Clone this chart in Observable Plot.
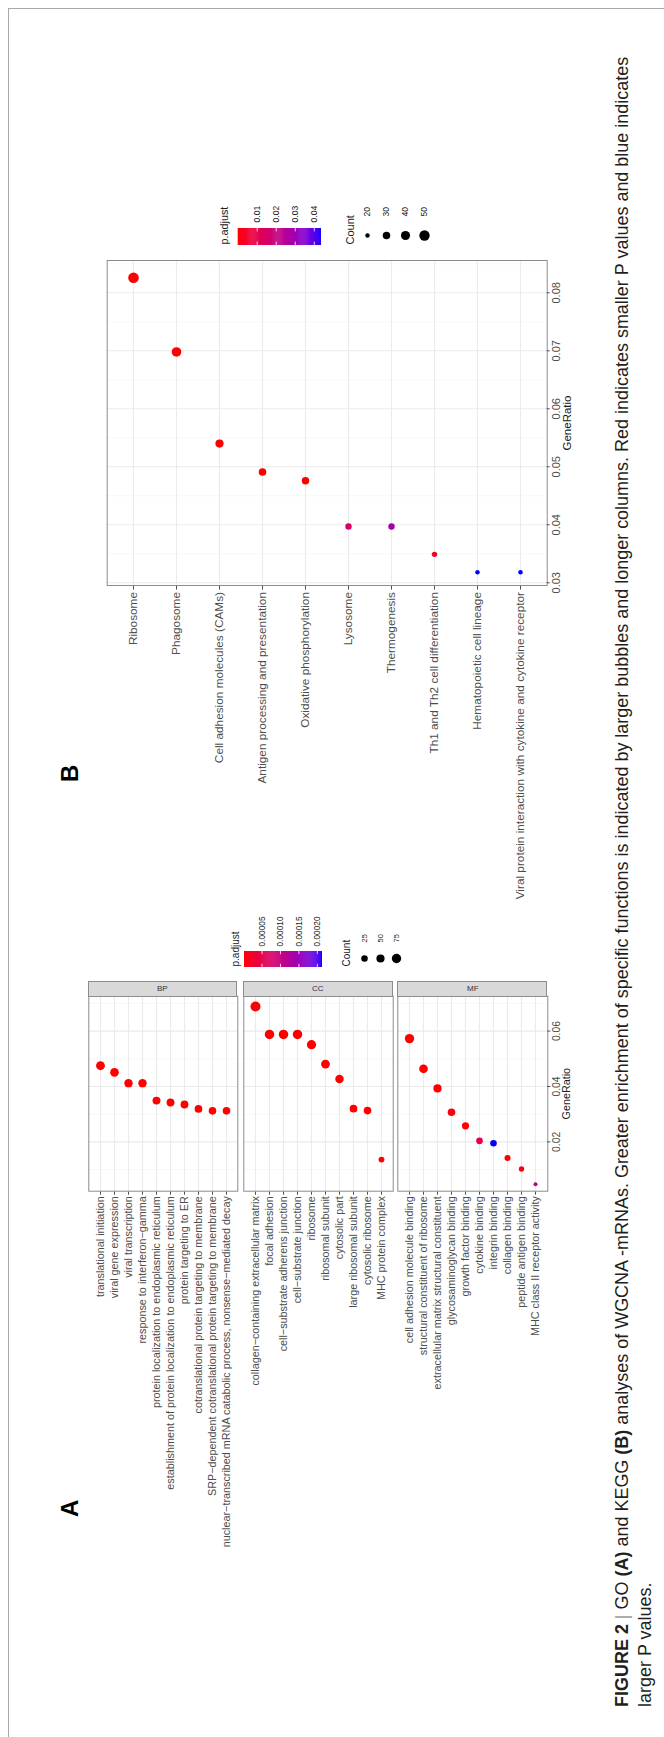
<!DOCTYPE html>
<html>
<head>
<meta charset="utf-8">
<title>Figure 2</title>
<script src="https://cdn.jsdelivr.net/npm/d3@7"></script>
<script src="https://cdn.jsdelivr.net/npm/@observablehq/plot@0.6"></script>
<style>
  html, body { margin:0; padding:0; background:#fff; }
  body { width:664px; height:1737px; overflow:hidden; position:relative; }
  #land { position:absolute; left:0; top:0; width:1737px; height:664px;
          transform-origin:0 0; transform:translate(0px,1737px) rotate(-90deg);
          font-family:"Liberation Sans", Arial, Helvetica, sans-serif; }
  #land > * { position:absolute; }
  .strip { box-sizing:border-box; background:#d9d9d9; border:1px solid #8c8c8c;
           display:flex; align-items:center; justify-content:center; }
  .strip span { writing-mode:vertical-rl; font-size:8px; color:#333; }
  .plabel { font-weight:bold; font-size:24px; line-height:24px; color:#000; }
  #caption { white-space:nowrap; color:#231f20; }
  #frameLines { box-sizing:border-box; border-top:1px solid #a8a8a8; border-right:1px solid #a8a8a8; }
</style>
</head>
<body>
<div id="land"></div>
<script>
// ---------------- DATA ----------------
// GO — Biological Process
const bpTerms = ["translational initiation","viral gene expression","viral transcription","response to interferon\u2212gamma","protein localization to endoplasmic reticulum","establishment of protein localization to endoplasmic reticulum","protein targeting to ER","cotranslational protein targeting to membrane","SRP\u2212dependent cotranslational protein targeting to membrane","nuclear\u2212transcribed mRNA catabolic process, nonsense\u2212mediated decay"];
const bpRatio = [0.0475,0.0451,0.0412,0.0412,0.0349,0.0342,0.0335,0.0319,0.0312,0.0312];
const bpCount = [63,60,54,54,46,45,44,42,41,41];
const bpPadj  = [1e-9,1e-9,1e-9,1e-9,1e-8,1e-8,1e-8,1e-8,1e-8,1e-8];

// GO — Cellular Component
const ccTerms = ["collagen\u2212containing extracellular matrix","focal adhesion","cell\u2212substrate adherens junction","cell\u2212substrate junction","ribosome","ribosomal subunit","cytosolic part","large ribosomal subunit","cytosolic ribosome","MHC protein complex"];
const ccRatio = [0.0689,0.0588,0.0588,0.0588,0.0551,0.0481,0.0427,0.0320,0.0313,0.0136];
const ccCount = [90,77,77,77,72,63,56,42,41,18];
const ccPadj  = [1e-12,1e-10,1e-10,1e-10,1e-10,1e-9,1e-9,1e-7,1e-7,1e-6];

// GO — Molecular Function
const mfTerms = ["cell adhesion molecule binding","structural constituent of ribosome","extracellular matrix structural constituent","glycosaminoglycan binding","growth factor binding","cytokine binding","integrin binding","collagen binding","peptide antigen binding","MHC class II receptor activity"];
const mfRatio = [0.0573,0.0464,0.0393,0.0307,0.0258,0.0204,0.0195,0.0142,0.0102,0.0047];
const mfCount = [75,61,51,40,34,27,25,19,13,6];
const mfPadj  = [1e-10,1e-8,1e-7,1e-5,1e-6,0.000049,0.000214,1e-6,1e-5,0.000119];

// KEGG
const keggTerms = ["Ribosome","Phagosome","Cell adhesion molecules (CAMs)","Antigen processing and presentation","Oxidative phosphorylation","Lysosome","Thermogenesis","Th1 and Th2 cell differentiation","Hematopoietic cell lineage","Viral protein interaction with cytokine and cytokine receptor"];
const keggRatio = [0.0826,0.0698,0.0540,0.0491,0.0476,0.0397,0.0397,0.0349,0.0318,0.0318];
const keggCount = [52,44,34,31,30,25,25,22,20,20];
const keggPadj  = [1e-20,1e-15,1e-8,1e-7,1e-6,0.0153,0.0285,0.004,0.0438,0.0438];

// ticks / legend breaks
const facetNames   = ["BP","CC","MF"];
const aRatioTicks  = [0.02,0.04,0.06];
const aMinorTicks  = [0.01,0.03,0.05,0.07];
const bRatioTicks  = [0.03,0.04,0.05,0.06,0.07,0.08];
const bMinorTicks  = [0.035,0.045,0.055,0.065,0.075,0.085];
const aPadjBreaks  = [0.00005,0.0001,0.00015,0.0002];
const aCountBreaks = [25,50,75];
const bPadjBreaks  = [0.01,0.02,0.03,0.04];
const bCountBreaks = [20,30,40,50];

// ---------------- LAYOUT (landscape frame, then rotated) ----------------
const W = 1737, H = 664;
const FONT = '"Liberation Sans", Arial, Helvetica, sans-serif';
const land = document.getElementById("land");
const svgStyle = {background:"none", overflow:"visible", fontFamily:FONT, color:"#4d4d4d", maxWidth:"none"};
function place(node){ node.style.position="absolute"; node.style.left="0px"; node.style.top="0px"; land.appendChild(node); return node; }

// page frame lines
const fr = document.createElement("div");
fr.id = "frameLines";
fr.style.cssText = "left:0px;top:8px;width:1729px;height:656px;";
land.appendChild(fr);

// ----- Panel A (GO, faceted) -----
const aU0 = 545.3, aU1 = 740.3, stripW = 15.7;
const aFacetV = [[88.3,237.3],[243.3,392.7],[397.3,547.3]];
const aXDomain = [0.0022, 0.0726];
const aColor = {type:"linear", domain:[0.0000025,0.000214], range:["red","blue"], interpolate:"lab", clamp:true};
const aOff = 5;
const aR = {type:"sqrt", domain:[0,85], range:[1.64,5]};

const goSets = [
  {terms:bpTerms, ratio:bpRatio, count:bpCount, padj:bpPadj},
  {terms:ccTerms, ratio:ccRatio, count:ccCount, padj:ccPadj},
  {terms:mfTerms, ratio:mfRatio, count:mfCount, padj:mfPadj}
];

goSets.forEach((s,k)=>{
  const [v0,v1] = aFacetV[k];
  const last = k === goSets.length-1;
  const rows = s.terms.map((t,i)=>({term:t, ratio:s.ratio[i], count:s.count[i], padj:s.padj[i]}));
  const marks = [
    Plot.gridX(aMinorTicks,{stroke:"#f2f2f2", strokeOpacity:1, strokeWidth:0.6}),
    Plot.gridX(aRatioTicks,{stroke:"#ebebeb", strokeOpacity:1, strokeWidth:1.1}),
    Plot.gridY(s.terms,{stroke:"#ebebeb", strokeOpacity:1, strokeWidth:1.1}),
    Plot.frame({stroke:"#8c8c8c", strokeWidth:1}),
    Plot.axisY({tickSize:3, tickPadding:2, fontSize:10.8, label:null}),
    Plot.dot(rows,{x:"ratio", y:"term", r:d=>d.count-aOff, fill:"padj"})
  ];
  if (last) {
    marks.push(Plot.axisX(aRatioTicks,{tickSize:3, tickPadding:2, fontSize:10.3, tickFormat:d3.format(".2f"), label:null}));
    marks.push(Plot.text(["GeneRatio"],{frameAnchor:"bottom", dy:22, fontSize:10.8, fill:"#1a1a1a"}));
  }
  place(Plot.plot({
    width:W, height:H,
    marginLeft:aU0, marginRight:W-aU1, marginTop:v0, marginBottom:H-v1,
    x: last ? {domain:aXDomain} : {domain:aXDomain, axis:null},
    y: {type:"point", domain:s.terms, padding:0.6},
    r: aR, color: aColor,
    style: svgStyle,
    marks
  }));
  const st = document.createElement("div");
  st.className = "strip";
  st.style.cssText = `left:${aU1}px;top:${v0}px;width:${stripW}px;height:${v1-v0}px;`;
  st.innerHTML = `<span>${facetNames[k]}</span>`;
  land.appendChild(st);
});

// Legend helpers
function barCells(lo, hi, n){
  const step = (hi-lo)/n;
  return d3.range(n).map(i=>({a:lo+step*i, b:Math.min(hi, lo+step*(i+1.4)), m:lo+step*(i+0.5)}));
}
{
  const [lo,hi] = aColor.domain;
  place(Plot.plot({
    width:W, height:H, margin:0,
    x:{domain:[0,1], range:[770,786], axis:null},
    y:{domain:[lo,hi], range:[244,322], axis:null},
    color:aColor, style:svgStyle,
    marks:[
      Plot.rect(barCells(lo,hi,80),{x1:0, x2:1, y1:"a", y2:"b", fill:"m"}),
      Plot.ruleY(aPadjBreaks,{x1:0, x2:0.2, stroke:"white", strokeWidth:0.8}),
      Plot.ruleY(aPadjBreaks,{x1:0.8, x2:1, stroke:"white", strokeWidth:0.8}),
      Plot.text(aPadjBreaks,{x:1, y:d=>d, dx:4, text:d=>d.toFixed(5), textAnchor:"start", fontSize:8.3, fill:"#1a1a1a"}),
      Plot.text(["p.adjust"],{x:0, y:lo, dy:-6, textAnchor:"start", lineAnchor:"bottom", fontSize:10, fill:"#1a1a1a"})
    ]
  }));
  place(Plot.plot({
    width:W, height:H, margin:0,
    x:{domain:[0,1], range:[770,786], axis:null},
    y:{type:"point", domain:aCountBreaks, range:[363.3,396.7], padding:0, axis:null},
    r:aR, style:svgStyle,
    marks:[
      Plot.dot(aCountBreaks,{x:0.5, y:d=>d, r:d=>d-aOff, fill:"black"}),
      Plot.text(aCountBreaks,{x:1, y:d=>d, dx:8, text:d=>String(d), textAnchor:"start", fontSize:7.5, fill:"#1a1a1a"}),
      Plot.text(["Count"],{x:0, y:aCountBreaks[0], dy:-15, textAnchor:"start", lineAnchor:"bottom", fontSize:10, fill:"#1a1a1a"})
    ]
  }));
}

// ----- Panel B (KEGG) -----
const bU0 = 1151, bU1 = 1476, bV0 = 106.7, bV1 = 546.7;
const bColor = {type:"linear", domain:[0,0.0438], range:["red","blue"], interpolate:"lab", clamp:true};
const bOff = 19;
const bR = {type:"sqrt", domain:[0,33], range:[1.6,5.3]};
{
  const rows = keggTerms.map((t,i)=>({term:t, ratio:keggRatio[i], count:keggCount[i], padj:keggPadj[i]}));
  place(Plot.plot({
    width:W, height:H,
    marginLeft:bU0, marginRight:W-bU1, marginTop:bV0, marginBottom:H-bV1,
    x:{domain:[0.02953,0.08557]},
    y:{type:"point", domain:keggTerms, padding:0.6},
    r:bR, color:bColor, style:svgStyle,
    marks:[
      Plot.gridX(bMinorTicks,{stroke:"#f2f2f2", strokeOpacity:1, strokeWidth:0.6}),
      Plot.gridX(bRatioTicks,{stroke:"#ebebeb", strokeOpacity:1, strokeWidth:1.1}),
      Plot.gridY(keggTerms,{stroke:"#ebebeb", strokeOpacity:1, strokeWidth:1.1}),
      Plot.frame({stroke:"#8c8c8c", strokeWidth:1}),
      Plot.axisY({tickSize:3.5, tickPadding:3, fontSize:11.8, label:null}),
      Plot.axisX(bRatioTicks,{tickSize:3, tickPadding:2, fontSize:11, tickFormat:d3.format(".2f"), label:null}),
      Plot.text(["GeneRatio"],{frameAnchor:"bottom", dy:24, fontSize:11.5, fill:"#1a1a1a"}),
      Plot.dot(rows,{x:"ratio", y:"term", r:d=>d.count-bOff, fill:"padj"})
    ]
  }));
  const [lo,hi] = bColor.domain;
  place(Plot.plot({
    width:W, height:H, margin:0,
    x:{domain:[0,1], range:[1492,1509], axis:null},
    y:{domain:[lo,hi], range:[237.7,321], axis:null},
    color:bColor, style:svgStyle,
    marks:[
      Plot.rect(barCells(lo,hi,80),{x1:0, x2:1, y1:"a", y2:"b", fill:"m"}),
      Plot.ruleY(bPadjBreaks,{x1:0, x2:0.2, stroke:"white", strokeWidth:0.8}),
      Plot.ruleY(bPadjBreaks,{x1:0.8, x2:1, stroke:"white", strokeWidth:0.8}),
      Plot.text(bPadjBreaks,{x:1, y:d=>d, dx:5, text:d=>d.toFixed(2), textAnchor:"start", fontSize:8.6, fill:"#1a1a1a"}),
      Plot.text(["p.adjust"],{x:0, y:lo, dy:-10, textAnchor:"start", lineAnchor:"bottom", fontSize:10.8, fill:"#1a1a1a"})
    ]
  }));
  place(Plot.plot({
    width:W, height:H, margin:0,
    x:{domain:[0,1], range:[1492,1510], axis:null},
    y:{type:"point", domain:bCountBreaks, range:[366.7,424.3], padding:0, axis:null},
    r:bR, style:svgStyle,
    marks:[
      Plot.dot(bCountBreaks,{x:0.5, y:d=>d, r:d=>d-bOff, fill:"black"}),
      Plot.text(bCountBreaks,{x:1, y:d=>d, dx:10, text:d=>String(d), textAnchor:"start", fontSize:8.5, fill:"#1a1a1a"}),
      Plot.text(["Count"],{x:0, y:bCountBreaks[0], dy:-13.7, textAnchor:"start", lineAnchor:"bottom", fontSize:11, fill:"#1a1a1a"})
    ]
  }));
}

// ----- panel letters -----
[["A",220],["B",955]].forEach(([t,u])=>{
  const d = document.createElement("div");
  d.className = "plabel";
  d.style.cssText = `left:${u}px;top:57.7px;`;
  d.textContent = t;
  land.appendChild(d);
});

// ----- caption -----
const cap = document.createElement("div");
cap.id = "caption";
cap.innerHTML = '<div id="l1" style="display:inline-block"><b>FIGURE 2</b> <span style="color:#9a9a9a">|</span> GO <b>(A)</b> and KEGG <b>(B)</b> analyses of WGCNA -mRNAs. Greater enrichment of specific functions is indicated by larger bubbles and longer columns. Red indicates smaller P values and blue indicates</div><div>larger P values.</div>';
cap.style.fontSize = "16px";
cap.style.lineHeight = "23px";
cap.style.left = "30px";
cap.style.top = "0px";
land.appendChild(cap);
const capW1 = cap.querySelector("#l1").offsetWidth;
const capFs = 16 * 1650 / capW1;
cap.style.fontSize = capFs + "px";
const capTop = 629 - ((23 - 1.117*capFs)/2 + 0.905*capFs);
cap.style.top = capTop + "px";
</script>
</body>
</html>
